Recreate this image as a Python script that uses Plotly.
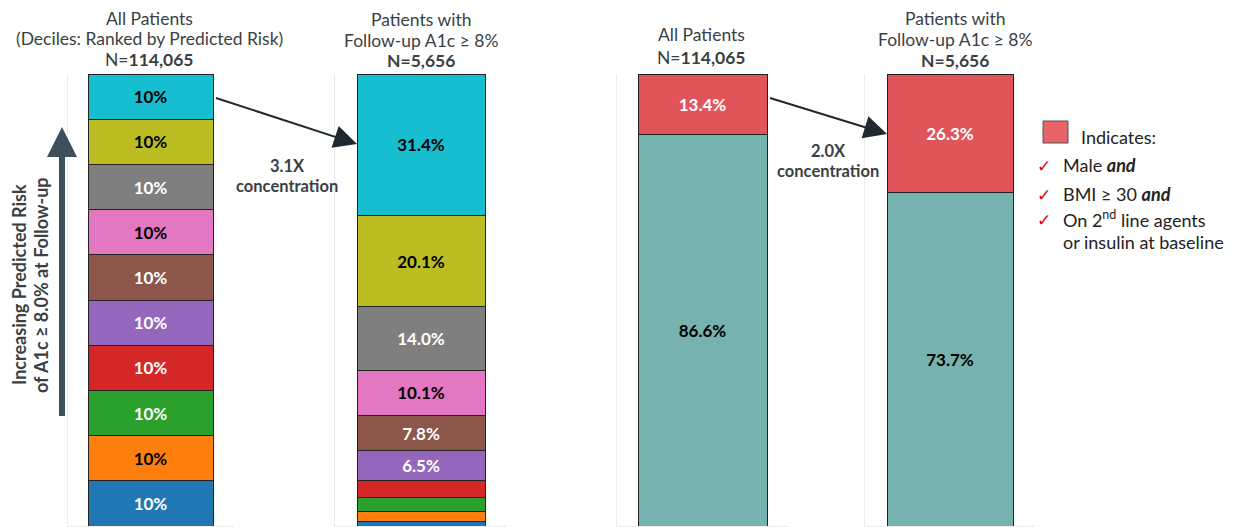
import plotly.graph_objects as go

# page offset (browser body margin) compensation
OFF = 8
W, H = 1237 - OFF, 527 - OFF
MT, MB = 74 - OFF, 1
PH = H - MT - MB

# ---------------- data ----------------
decile_names = ["Decile 1", "Decile 2", "Decile 3", "Decile 4", "Decile 5",
                "Decile 6", "Decile 7", "Decile 8", "Decile 9", "Decile 10"]  # lowest -> highest risk
decile_colors = ["#1f77b4", "#ff7f0e", "#2ca02c", "#d62728", "#9467bd",
                 "#8c564b", "#e377c2", "#7f7f7f", "#bcbd22", "#17becf"]
decile_text_colors = ["white", "black", "white", "white", "white",
                      "white", "black", "white", "black", "black"]
all_patients_deciles = [10, 10, 10, 10, 10, 10, 10, 10, 10, 10]
followup_deciles = [1.1, 2.1, 3.0, 3.9, 6.5, 7.8, 10.1, 14.0, 20.1, 31.4]

phenotype_names = ["Other patients", "Male, BMI ≥ 30, 2nd line agents or insulin"]
phenotype_colors = ["#76b3ae", "#e0555a"]
phenotype_text_colors = ["black", "white"]
all_patients_pheno = [86.6, 13.4]
followup_pheno = [73.7, 26.3]

FONT = "Lato"


def px(x):
    return (x - OFF) / W


def py(y):
    return (H - MB - (y - OFF)) / PH


fig = go.Figure()

panels = [
    dict(dom=(68, 233), bar=125, vals=all_patients_deciles, names=decile_names,
         colors=decile_colors, tcols=decile_text_colors, fmt="{:.0f}%"),
    dict(dom=(335, 507), bar=128, vals=followup_deciles, names=decile_names,
         colors=decile_colors, tcols=decile_text_colors, fmt="{:.1f}%"),
    dict(dom=(617, 788), bar=129, vals=all_patients_pheno, names=phenotype_names,
         colors=phenotype_colors, tcols=phenotype_text_colors, fmt="{:.1f}%"),
    dict(dom=(865, 1035), bar=126, vals=followup_pheno, names=phenotype_names,
         colors=phenotype_colors, tcols=phenotype_text_colors, fmt="{:.1f}%"),
]

for i, p in enumerate(panels):
    k = "" if i == 0 else str(i + 1)
    width = p["bar"] / (p["dom"][1] - p["dom"][0])
    for name, v, c, tc in zip(p["names"], p["vals"], p["colors"], p["tcols"]):
        fig.add_trace(go.Bar(
            x=[0], y=[v], name=name, width=width,
            marker=dict(color=c, line=dict(color="#222222", width=1)),
            text=[p["fmt"].format(v)] if v >= 5 else None,
            textposition="inside" if v >= 5 else "none",
            insidetextanchor="middle", textangle=0,
            textfont=dict(family=FONT, size=17, color=tc, weight="bold"),
            xaxis="x" + k, yaxis="y" + k, showlegend=False,
            hovertemplate=name + ": %{y}%<extra></extra>",
        ))
    fig.layout["xaxis" + k] = dict(
        domain=[px(p["dom"][0]), px(p["dom"][1])], range=[-0.5, 0.5],
        showticklabels=False, showgrid=False, zeroline=False,
        showline=True, linecolor="#ececec", linewidth=1,
        anchor="y" + k, fixedrange=True)
    fig.layout["yaxis" + k] = dict(
        domain=[0, 1], range=[0, 100], showticklabels=False, showgrid=False,
        zeroline=False, showline=True, linecolor="#ececec", linewidth=1,
        anchor="x" + k, fixedrange=True)

ann = []


def text(x, y, t, size=17.5, color="#3a3f44", xanchor="center", bold=False, angle=0):
    ann.append(dict(
        x=px(x), y=py(y), xref="paper", yref="paper", text=t, showarrow=False,
        xanchor=xanchor, yanchor="middle", align="left" if xanchor == "left" else "center",
        textangle=angle,
        font=dict(family=FONT, size=size, color=color, weight="bold" if bold else "normal")))


# headers
text(149, 18.5, "All Patients")
text(149, 38.5, "(Deciles: Ranked by Predicted Risk)")
text(149, 59, "N=<b>114,065</b>")
text(421, 19, "Patients with")
text(421, 40, "Follow-up A1c ≥ 8%")
text(421, 61, "<b>N=5,656</b>")
text(701, 35, "All Patients")
text(701, 57, "N=<b>114,065</b>")
text(955, 18.5, "Patients with")
text(955, 39.5, "Follow-up A1c ≥ 8%")
text(955, 60.5, "<b>N=5,656</b>")

# concentration labels
text(287, 166, "3.1X", size=16.5, bold=True)
text(287, 186, "concentration", size=16.5, bold=True)
text(828, 151, "2.0X", size=16.5, bold=True)
text(828, 171, "concentration", size=16.5, bold=True)

# rotated axis label
text(19, 285, "Increasing Predicted Risk", size=18, bold=True, angle=-90)
text(41, 285, "of A1c ≥ 8.0% at Follow-up", size=18, bold=True, angle=-90)

# legend text
text(1079, 137, "Indicates:", size=18, color="#222222", xanchor="left")
chk = "<span style='color:#e00000'>✓</span>"
for yy, t in [(165, "Male <b><i>and</i></b>"), (194, "BMI ≥ 30 <b><i>and</i></b>"),
              (219, "On 2<sup>nd</sup> line agents")]:
    text(1035, yy, chk, size=17, xanchor="left")
    text(1061, yy, t, size=18, color="#222222", xanchor="left")
text(1061, 242, "or insulin at baseline", size=18, color="#222222", xanchor="left")


def arrow(x_head, y_head, x_tail, y_tail, width, color, size):
    ann.append(dict(
        x=px(x_head), y=py(y_head), xref="paper", yref="paper",
        ax=x_tail - x_head, ay=y_tail - y_head, axref="pixel", ayref="pixel",
        showarrow=True, arrowhead=2, arrowsize=size, arrowwidth=width,
        arrowcolor=color, standoff=0, startstandoff=0, text=" "))


arrow(357, 144, 213, 97, 2, "#1e2a30", 2.3)
arrow(887, 134, 767, 97, 2, "#1e2a30", 2.3)
arrow(62, 127, 62, 425, 6, "#3d4f5a", 1.0)

fig.update_layout(
    width=W, height=H, barmode="stack", annotations=ann,
    margin=dict(l=0, r=0, t=MT, b=MB),
    paper_bgcolor="white", plot_bgcolor="white",
    font=dict(family=FONT),
    shapes=[dict(type="rect", xref="paper", yref="paper",
                 x0=px(1043), x1=px(1068), y0=py(143), y1=py(121),
                 fillcolor="#e8636a", line=dict(color="#555555", width=1))],
)

fig.write_html("out.html")
